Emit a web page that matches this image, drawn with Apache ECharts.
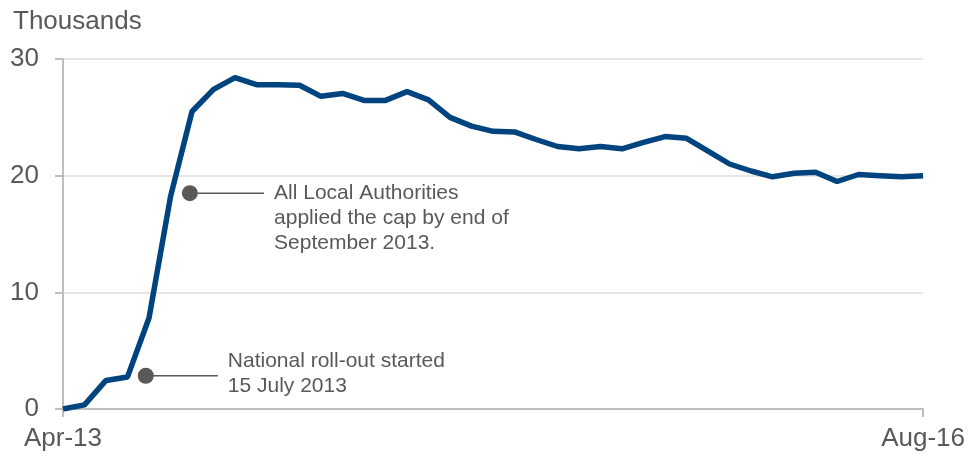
<!DOCTYPE html>
<html>
<head>
    <meta charset="utf-8">
    <title>Benefit cap</title>
    <script src="https://cdn.jsdelivr.net/npm/echarts@6/dist/echarts.min.js"></script>
    <style>
        html, body { margin: 0; padding: 0; background: #fff; }
        #main { width: 968px; height: 456px; }
    </style>
</head>
<body>
<div id="main"></div>
<script type="text/javascript">
    // month labels, Apr-13 .. Aug-16 (only first and last are shown)
    var months = ['Apr-13', 'May-13', 'Jun-13', 'Jul-13', 'Aug-13', 'Sep-13', 'Oct-13', 'Nov-13', 'Dec-13',
        'Jan-14', 'Feb-14', 'Mar-14', 'Apr-14', 'May-14', 'Jun-14', 'Jul-14', 'Aug-14', 'Sep-14', 'Oct-14', 'Nov-14', 'Dec-14',
        'Jan-15', 'Feb-15', 'Mar-15', 'Apr-15', 'May-15', 'Jun-15', 'Jul-15', 'Aug-15', 'Sep-15', 'Oct-15', 'Nov-15', 'Dec-15',
        'Jan-16', 'Feb-16', 'Mar-16', 'Apr-16', 'May-16', 'Jun-16', 'Jul-16', 'Aug-16'];
    // households capped, thousands
    var capped = [0, 0.35, 2.45, 2.75, 7.8, 18.2, 25.5, 27.4, 28.4,
        27.8, 27.8, 27.75, 26.8, 27.05, 26.45, 26.45, 27.2, 26.5, 25.0, 24.25, 23.8,
        23.75, 23.1, 22.5, 22.3, 22.5, 22.3, 22.85, 23.35, 23.2, 22.1, 21.0, 20.4,
        19.9, 20.2, 20.3, 19.5, 20.1, 20.0, 19.9, 20.0];
    var yTicks = [0, 10, 20, 30];

    // annotations: dot at [month index, value], connector ends at endX
    var notes = [
        {x: 5.9, y: 18.5, endX: 9.35, text: 'All Local Authorities\napplied the cap by end of\nSeptember 2013.', topAligned: true},
        {x: 3.85, y: 2.85, endX: 7.2, text: 'National roll-out started\n15 July 2013', topAligned: false}
    ];

    var textColor = '#595959';
    var font = 'Liberation Sans, Arial, sans-serif';
    var chart = echarts.init(document.getElementById('main'));

    var series = [{
        type: 'line',
        data: capped.map(function (v, i) { return [i, v]; }),
        showSymbol: false,
        lineStyle: {color: '#00447f', width: 5.5},
        itemStyle: {color: '#00447f'},
        z: 3,
        animation: false
    }];

    notes.forEach(function (n) {
        series.push({
            type: 'line',
            data: [
                {value: [n.x, n.y], symbol: 'circle', symbolSize: 16},
                {value: [n.endX, n.y], symbol: 'none'}
            ],
            showSymbol: true,
            lineStyle: {color: textColor, width: 1.5},
            itemStyle: {color: textColor},
            endLabel: {
                show: true,
                distance: 10,
                formatter: n.text,
                color: textColor,
                fontSize: 21,
                lineHeight: 25,
                fontFamily: font,
                verticalAlign: n.topAligned ? 'top' : 'middle',
                offset: n.topAligned ? [0, -12.5] : [0, -2]
            },
            z: 4,
            silent: true,
            animation: false
        });
    });

    var option = {
        backgroundColor: '#fff',
        title: {
            text: 'Thousands',
            left: 8,
            top: 4,
            textStyle: {
                color: textColor,
                fontSize: 26,
                fontWeight: 'normal',
                fontFamily: font
            }
        },
        grid: {left: 63, right: 42, top: 59, bottom: 47},
        xAxis: {
            type: 'value',
            min: 0,
            max: months.length - 1,
            interval: months.length - 1,
            axisLine: {lineStyle: {color: '#bfbfbf', width: 2}},
            axisTick: {show: true, length: 8, lineStyle: {color: '#bfbfbf', width: 2}},
            splitLine: {show: false},
            axisLabel: {
                margin: 17,
                color: textColor,
                fontSize: 26,
                fontFamily: font,
                formatter: function (v) { return months[v] || ''; }
            }
        },
        yAxis: {
            type: 'value',
            min: yTicks[0],
            max: yTicks[yTicks.length - 1],
            interval: 10,
            axisLine: {show: true, lineStyle: {color: '#bfbfbf', width: 2}},
            axisTick: {show: true, length: 8, lineStyle: {color: '#bfbfbf', width: 2}},
            splitLine: {lineStyle: {color: '#e6e6e6', width: 2}},
            axisLabel: {
                margin: 24,
                color: textColor,
                fontSize: 26,
                fontFamily: font
            }
        },
        series: series
    };

    chart.setOption(option);
</script>
</body>
</html>
